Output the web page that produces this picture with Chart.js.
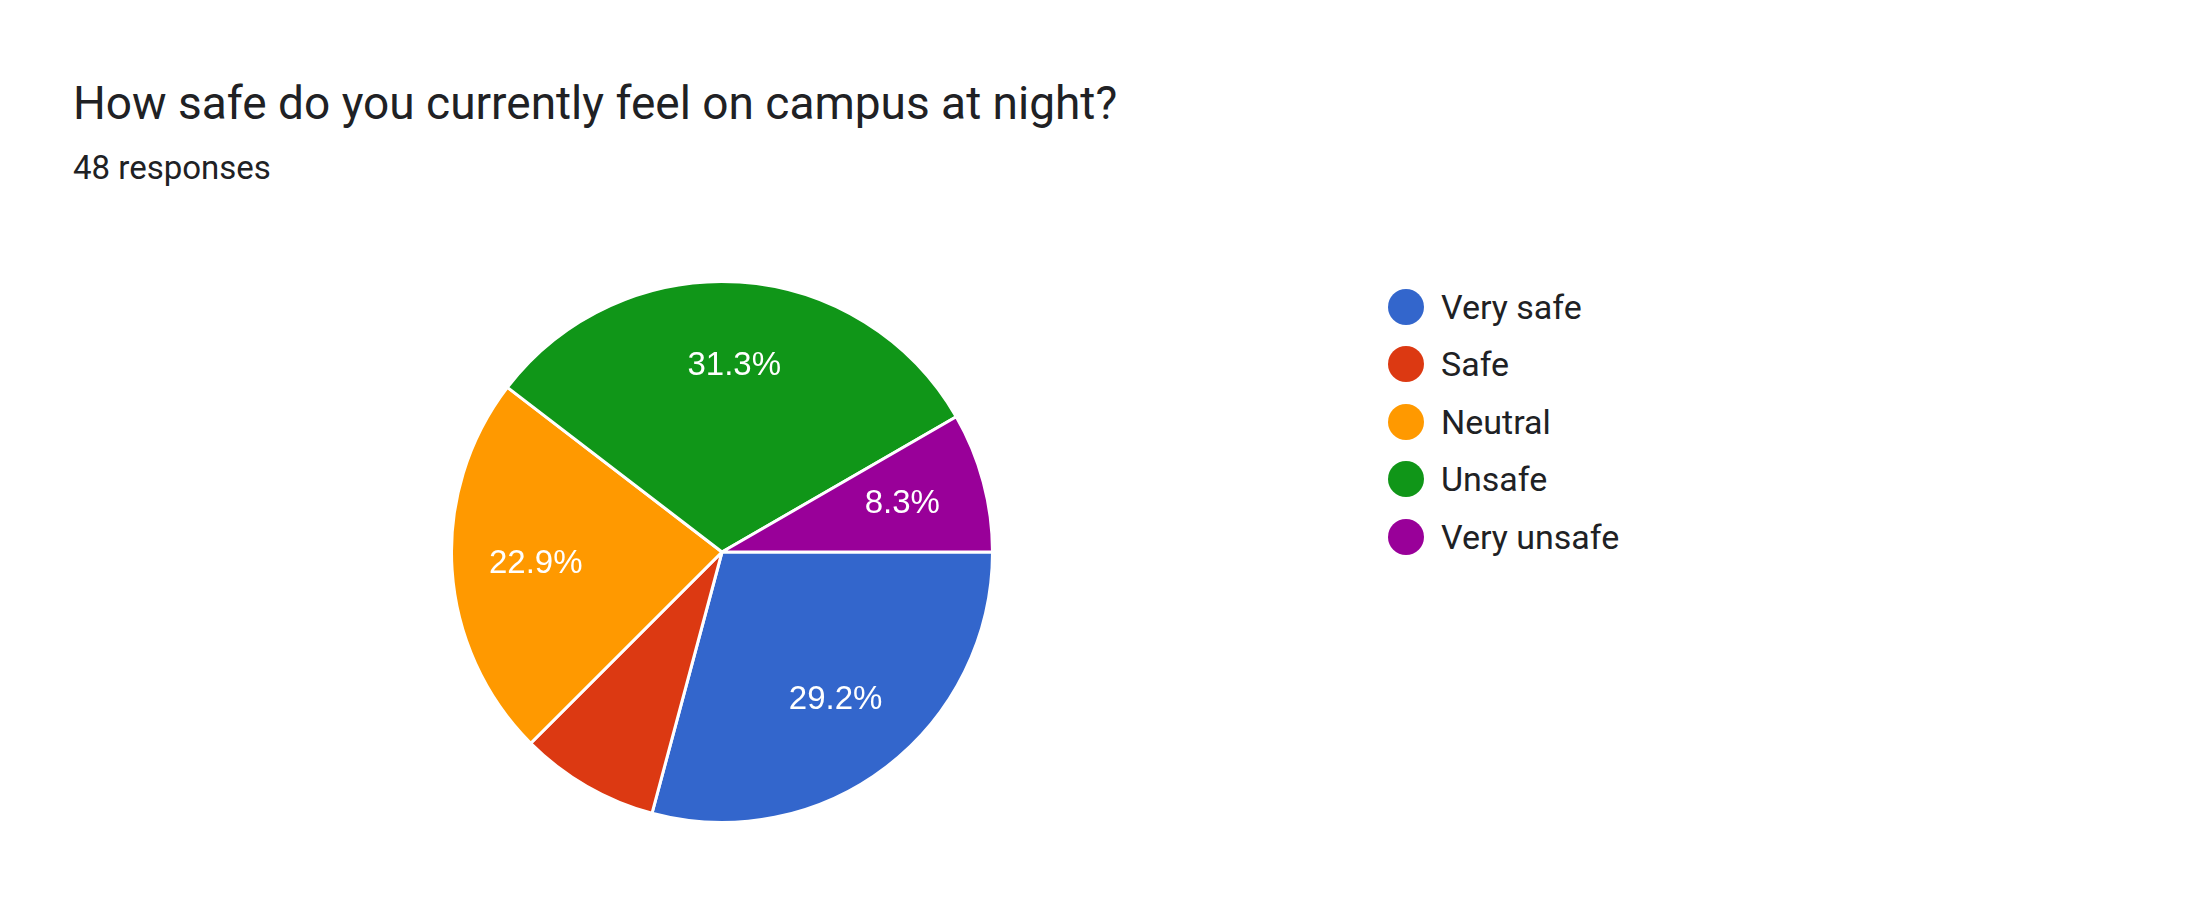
<!DOCTYPE html>
<html>
<head>
<meta charset="utf-8">
<script src="https://cdn.jsdelivr.net/npm/chart.js@4"></script>
<style>
	body { margin: 0; background: #fff; font-family: Roboto, "Noto Sans", sans-serif; color: #202124; }
	#title { position: absolute; left: 73px; top: 76px; font-size: 46px; }
	#sub { position: absolute; left: 73px; top: 148px; font-size: 33px; }
	#wrap { position: absolute; left: 450px; top: 280px; width: 544px; height: 544px; }
	#legend { position: absolute; left: 1388px; top: 278px; font-size: 34px; }
	.row { display: flex; align-items: center; height: 57.5px; }
	.dot { width: 36px; height: 36px; border-radius: 50%; margin-right: 17px; }
</style>
</head>
<body>
<div id="title">How safe do you currently feel on campus at night?</div>
<div id="sub">48 responses</div>
<div id="wrap"><canvas id="pie"></canvas></div>
<div id="legend"></div>
<script>
const categories = ["Very safe", "Safe", "Neutral", "Unsafe", "Very unsafe"];
const counts = [14, 4, 11, 15, 4];
const colors = ["#3366cc", "#dc3912", "#ff9900", "#109618", "#990099"];
const showLabel = [true, false, true, true, true];

document.getElementById("legend").innerHTML = categories.map((c, i) =>
	`<div class="row"><div class="dot" style="background:${colors[i]}"></div>${c}</div>`).join("");

const total = counts.reduce((a, b) => a + b, 0);

const pctLabels = {
	id: "pctLabels",
	afterDatasetsDraw(chart) {
		const { ctx } = chart;
		const meta = chart.getDatasetMeta(0);
		ctx.save();
		ctx.fillStyle = "#fff";
		ctx.font = "33px Arial, 'Liberation Sans', sans-serif";
		ctx.textAlign = "center";
		ctx.textBaseline = "middle";
		meta.data.forEach((arc, i) => {
			if (!showLabel[i]) return;
			const mid = (arc.startAngle + arc.endAngle) / 2;
			const r = arc.outerRadius * 0.69;
			ctx.fillText((counts[i] / total * 100).toFixed(1) + "%", arc.x + Math.cos(mid) * r, arc.y + Math.sin(mid) * r);
		});
		ctx.restore();
	}
};

new Chart(document.getElementById("pie"), {
	type: "pie",
	data: {
		labels: categories,
		datasets: [{ data: counts, backgroundColor: colors, borderColor: "#fff", borderWidth: 3 }]
	},
	options: {
		responsive: true,
		maintainAspectRatio: false,
		animation: false,
		rotation: 90,
		plugins: { legend: { display: false }, tooltip: { enabled: false } }
	},
	plugins: [pctLabels]
});
</script>
</body>
</html>
